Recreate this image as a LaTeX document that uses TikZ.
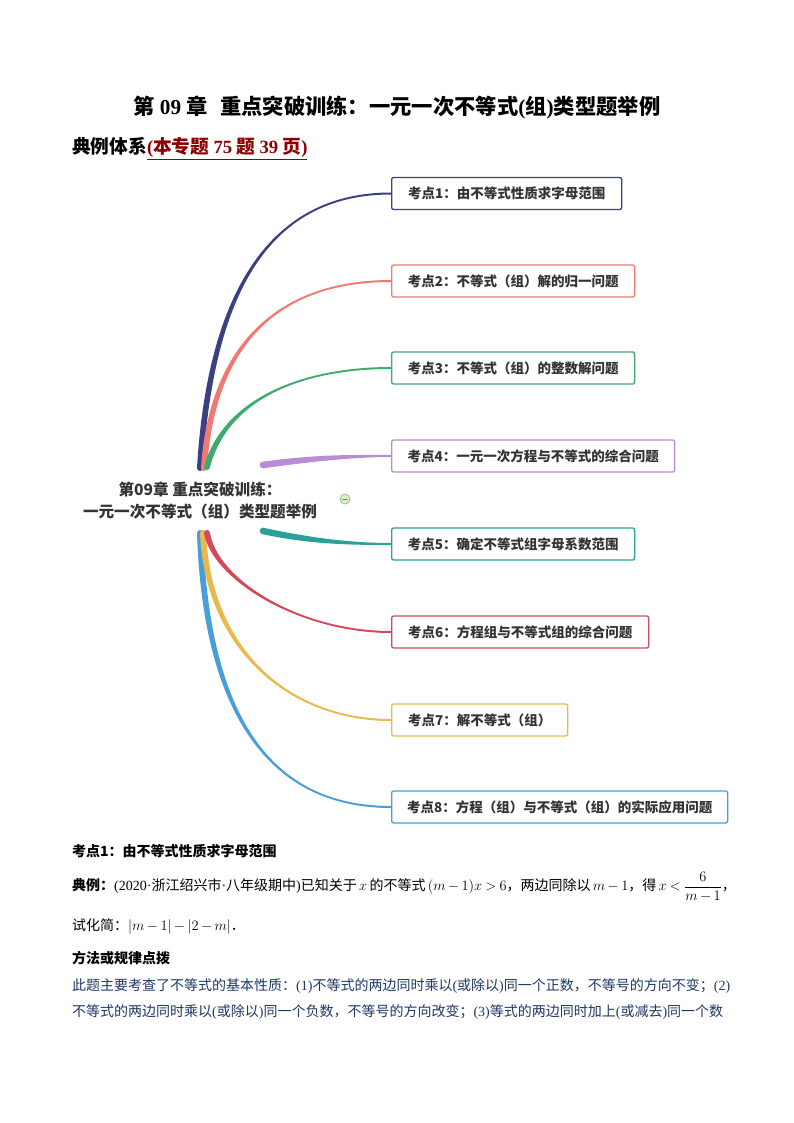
\documentclass[tikz,border=0pt]{standalone}
\usepackage{fontspec}
\usepackage{amsmath}
\setmainfont{Liberation Serif}
\newfontfamily\cjk{Noto Sans CJK SC}
\usetikzlibrary{calc}
\XeTeXlinebreaklocale "zh"
\XeTeXlinebreakskip=0pt plus 2pt minus 0.6pt
\medmuskip=3mu
\thickmuskip=4mu
\definecolor{cnavy}{RGB}{58,64,128}
\definecolor{csalmon}{RGB}{240,122,114}
\definecolor{cgreen}{RGB}{62,170,110}
\definecolor{cpurple}{RGB}{185,140,215}
\definecolor{cteal}{RGB}{42,160,150}
\definecolor{cred}{RGB}{212,72,92}
\definecolor{cyellow}{RGB}{232,185,75}
\definecolor{cblue}{RGB}{72,158,216}
\definecolor{ctext}{RGB}{51,51,51}
\definecolor{cdarkred}{RGB}{139,0,0}
\definecolor{cpara}{RGB}{31,56,100}
\definecolor{colborder}{RGB}{140,190,110}
\definecolor{colfill}{RGB}{220,238,205}
\definecolor{colminus}{RGB}{110,160,90}
\newcommand\taper[8]{%
  \fill[#1] ($(#2)-(#6:#8)$) .. controls ($(#3)-(#6:#8)$) and ($(#4)-(#7:1)$) .. ($(#5)-(#7:1)$)
    -- ($(#5)+(#7:1)$) .. controls ($(#4)+(#7:1)$) and ($(#3)+(#6:#8)$) .. ($(#2)+(#6:#8)$) -- cycle;
  \fill[#1] (#2) circle (#8);}
\newcommand\Lt[1]{{\rmfamily #1}}
\tikzset{
  kbox/.style={draw=#1, rounded corners=2, line width=1.3, fill=white, minimum height=32,
    anchor=west, inner xsep=0, inner ysep=0, text=ctext,
    font=\cjk\bfseries\fontsize{13.5}{16}\selectfont},
  bodytext/.style={anchor=west, inner sep=0, font=\cjk\fontsize{14}{17}\selectfont},
}
\begin{document}
\begin{tikzpicture}[x=1pt,y=-1pt]
\useasboundingbox (0,0) rectangle (794,1123);
\fill[white] (0,0) rectangle (794,1123);

% title
\node[inner sep=0, font=\cjk\bfseries\fontsize{21.3}{24}\selectfont] (title) at (397,108)
  {第 {\rmfamily 09} 章\hspace{0.6em}重点突破训练：一元一次不等式{\rmfamily (}组{\rmfamily )}类型题举例};
\node[anchor=west, inner sep=0, font=\cjk\bfseries\fontsize{18.7}{22}\selectfont] (sub) at (72,149)
  {典例体系{\color{cdarkred}\underline{{\rmfamily (}本专题 {\rmfamily 75} 题 {\rmfamily 39} 页{\rmfamily )}}}};

% central node
\node[align=center, inner sep=0, text=ctext, font=\cjk\bfseries\fontsize{15.6}{22}\selectfont] (root) at (200,501)
  {第09章 重点突破训练：\\一元一次不等式（组）类型题举例};
\node[circle, draw=colborder, fill=colfill, line width=0.7, minimum size=10, inner sep=0] (col) at (345,499) {};
\draw[colminus, line width=1] ($(col.west)+(2.5,0)$) -- ($(col.east)-(2.5,0)$);

% boxes
\node[kbox=cnavy, minimum width=230] (b1) at (391,193.5) {考点1：由不等式性质求字母范围};
\node[kbox=csalmon, minimum width=243] (b2) at (391,281) {考点2：不等式（组）解的归一问题};
\node[kbox=cgreen, minimum width=243] (b3) at (391,368) {考点3：不等式（组）的整数解问题};
\node[kbox=cpurple, minimum width=283] (b4) at (391,456) {考点4：一元一次方程与不等式的综合问题};
\node[kbox=cteal, minimum width=243] (b5) at (391,544) {考点5：确定不等式组字母系数范围};
\node[kbox=cred, minimum width=257] (b6) at (391,632) {考点6：方程组与不等式组的综合问题};
\node[kbox=cyellow, minimum width=176] (b7) at (391,720) {考点7：解不等式（组）};
\node[kbox=cblue, minimum width=336] (b8) at (391,807) {考点8：方程（组）与不等式（组）的实际应用问题};

% branch origins
\coordinate (o1) at (200,468);
\coordinate (o2) at (204,468);
\coordinate (o3) at (207,467);
\coordinate (o4) at (263,465);
\coordinate (o5) at (263,531);
\coordinate (o6) at (207,533);
\coordinate (o7) at (203,533);
\coordinate (o8) at (200,533);

\taper{cnavy}{o1}{210,300}{265,193.5}{b1.west}{0}{90}{3}
\taper{csalmon}{o2}{212,345}{278,281}{b2.west}{0}{90}{3}
\taper{cgreen}{o3}{225,400}{300,368}{b3.west}{0}{90}{3}
\taper{cpurple}{o4}{320,457}{360,456}{b4.west}{90}{90}{3.3}
\taper{cteal}{o5}{310,541}{350,544}{b5.west}{90}{90}{3.3}
\taper{cblue}{o8}{206,715}{270,807}{b8.west}{0}{270}{3}
\taper{cyellow}{o7}{208,650}{290,720}{b7.west}{0}{270}{3}
\taper{cred}{o6}{215,580}{300,632}{b6.west}{0}{270}{3}

% lower text
\node[bodytext, font=\cjk\bfseries\fontsize{14}{17}\selectfont] (k1) at (72,851) {考点1：由不等式性质求字母范围};
\node[bodytext] (ex) at (72,887) {\makebox[655pt][s]{{\bfseries 典例：}\Lt{(2020·}浙江绍兴市\Lt{·}八年级期中\Lt{)}已知关于\,$x$\,的不等式\,$(m-1)x>6$，两边同除以\,$m-1$，得\,$x<\dfrac{6}{m-1}$，}};
\node[bodytext] (simp) at (72,926) {试化简：$|m-1|-|2-m|$．};
\node[bodytext, font=\cjk\bfseries\fontsize{14}{17}\selectfont] (meth) at (72,958) {方法或规律点拨};
\node[bodytext, text=cpara] (p1) at (72,986) {\makebox[650pt][s]{此题主要考查了不等式的基本性质：\Lt{(1)}不等式的两边同时乘以\Lt{(}或除以\Lt{)}同一个正数，不等号的方向不变；\Lt{(2)}}};
\node[bodytext, text=cpara] (p2) at (72,1012) {\makebox[650pt][s]{不等式的两边同时乘以\Lt{(}或除以\Lt{)}同一个负数，不等号的方向改变；\Lt{(3)}等式的两边同时加上\Lt{(}或减去\Lt{)}同一个数}};
\end{tikzpicture}
\end{document}
